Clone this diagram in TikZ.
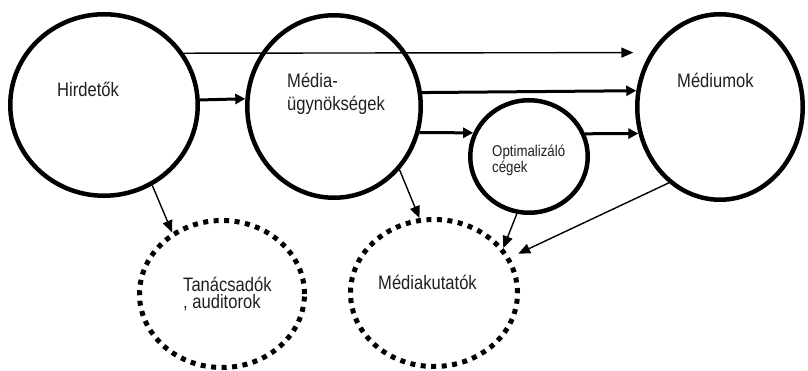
\documentclass[tikz,border=0pt]{standalone}
\usepackage{fontspec}
\setmainfont{Liberation Sans}[FakeStretch=0.85]
\usetikzlibrary{arrows.meta,shapes.geometric}
\begin{document}
\begin{tikzpicture}[x=1pt,y=-1pt,
  bigc/.style={draw=black, line width=4.5pt, ellipse, inner sep=0pt},
  dotc/.style={draw=black, line width=5pt, ellipse, inner sep=0pt, dash pattern=on 5pt off 5.5pt},
  thinarrow/.style={line width=1.4pt, -{Triangle[length=12pt,width=10pt]}},
  thickarrow/.style={line width=3pt, -{Triangle[length=10pt,width=10pt]}},
  lbl/.style={anchor=base west, inner sep=0pt, align=left, text=black!88, font=\fontsize{19.5}{23}\selectfont},
  tlbl/.style={lbl, font=\fontsize{19.5}{17}\selectfont},
  slbl/.style={anchor=base west, inner sep=0pt, align=left, text=black!88, font=\fontsize{15.6}{16}\selectfont}
]
\useasboundingbox (0,0) rectangle (808,371);
% circles
\node[bigc, minimum width=187.5pt, minimum height=181.5pt] (H) at (104,105) {};
\node[bigc, minimum width=173.5pt, minimum height=182.5pt] (M) at (334,106.5) {};
\node[bigc, minimum width=165.5pt, minimum height=185.5pt] (D) at (720,107) {};
\node[bigc, minimum width=117.5pt, minimum height=112.5pt] (O) at (529,156.5) {};
\node[dotc, minimum width=165pt, minimum height=147pt] (T) at (222,294) {};
\node[dotc, minimum width=167pt, minimum height=147pt] (K) at (434,293) {};
% labels (base anchor = baseline of the last line)
\node[lbl] (Hl) at (57,97) {Hirdetők};
\node[lbl] (Ml) at (287,111) {Média-\\ügynökségek};
\node[lbl] (Dl) at (677,88) {Médiumok};
\node[slbl] (Ol) at (492,173) {Optimalizáló\\cégek};
\node[tlbl] (Tl) at (183,308.5) {Tanácsadók\\, auditorok};
\node[lbl] (Kl) at (378,290) {Médiakutatók};
% connectors
\draw[thinarrow, shorten >=17pt] (H.33.2) -- (D.142.3);
\draw[thickarrow] (H.3) -- (M.175.8);
\draw[thickarrow] (M.9.4) -- (D.169.9);
\draw[thickarrow] (M.-17.25) -- (O.157.2);
\draw[thickarrow] (O.22.8) -- (D.-162.4);
\draw[thinarrow] (H.-59.4) -- (T.129.3);
\draw[thinarrow] (M.-44.4) -- (K.101.2);
\draw[thinarrow] (O.-102.8) -- (K.33.1);
\draw[thinarrow, shorten >=9pt] (D.-124.9) -- (K.25.7);
\end{tikzpicture}
\end{document}
